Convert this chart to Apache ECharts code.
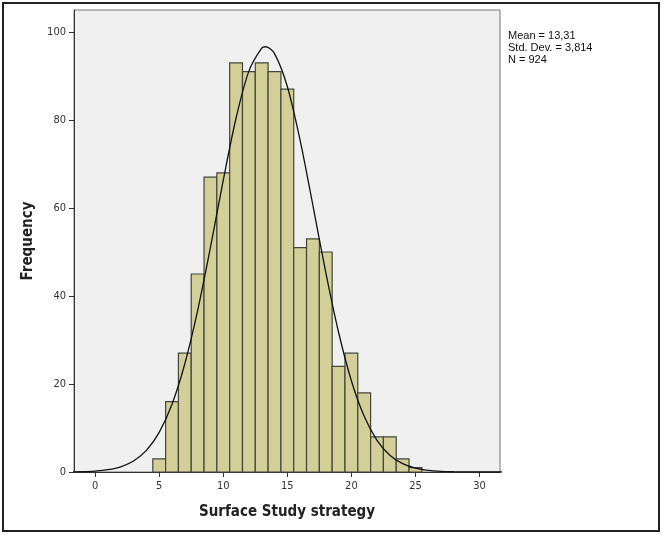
<!DOCTYPE html>
<html>
<head>
<meta charset="utf-8">
<script src="https://cdn.jsdelivr.net/npm/echarts@6/dist/echarts.min.js"></script>
<style>
html,body{margin:0;padding:0;background:#fff;}
#chart{width:662px;height:535px;}
</style>
</head>
<body>
<div id="chart"></div>
<script>
// Histogram bins (centre of each bin, width 1)
const binCenters = [5,6,7,8,9,10,11,12,13,14,15,16,17,18,19,20,21,22,23,24,25];
const frequencies = [3,16,27,45,67,68,93,91,93,91,87,51,53,50,24,27,18,8,8,3,1];
// Normal curve (x, height)
const curveX = [-2,-1,0,1,2,3,4,5,6,7,8,9,10,11,12,13,13.31,14,15,16,17,18,19,20,21,22,23,24,25,26,27,28,29,30,31,32];
const curveY = [0.03,0.085,0.22,0.53,1.19,2.5,4.91,9.0,15.4,24.6,36.67,51.04,66.32,80.45,91.11,96.33,96.65,95.08,87.61,75.37,60.53,45.38,31.76,20.75,12.66,7.21,3.83,1.9,0.88,0.38,0.15,0.06,0.02,0.007,0.002,0.001];
const xTicks = [0,5,10,15,20,25,30];
const yTicks = [0,20,40,60,80,100];
const statsLines = ['Mean = 13,31','Std. Dev. = 3,814','N = 924'];

const barData = binCenters.map((c,i)=>[c,frequencies[i]]);
const curveData = curveX.map((x,i)=>[x,curveY[i]]);

const chart = echarts.init(document.getElementById('chart'), null, {renderer:'canvas'});
const labelFont = {fontFamily:'DejaVu Sans Condensed, DejaVu Sans', fontSize:11, color:'#333'};
chart.setOption({
  animation:false,
  backgroundColor:'#ffffff',
  grid:{left:74,right:162,top:10,bottom:63,show:true,backgroundColor:'#f0f0f0',borderColor:'#777',borderWidth:1},
  xAxis:{
    type:'value', min:-1.65, max:31.6,
    name:'Surface Study strategy', nameLocation:'middle', nameGap:33,
    nameTextStyle:{fontFamily:'DejaVu Sans Condensed, DejaVu Sans', fontWeight:'bold', fontSize:15, color:'#222'},
    axisLine:{show:true,onZero:false,lineStyle:{color:'#333',width:1}},
    axisTick:{show:true,inside:false,length:5,customValues:xTicks,lineStyle:{color:'#333'}},
    axisLabel:Object.assign({customValues:xTicks,margin:9},labelFont),
    splitLine:{show:false}
  },
  yAxis:{
    type:'value', min:0, max:105,
    name:'Frequency', nameLocation:'middle', nameGap:38,
    nameTextStyle:{fontFamily:'DejaVu Sans Condensed, DejaVu Sans', fontWeight:'bold', fontSize:15, color:'#222'},
    axisLine:{show:true,onZero:false,lineStyle:{color:'#333',width:1}},
    axisTick:{show:true,inside:false,length:5,customValues:yTicks,lineStyle:{color:'#333'}},
    axisLabel:Object.assign({customValues:yTicks,margin:8},labelFont),
    splitLine:{show:false}
  },
  series:[
    {
      type:'custom',
      data:barData,
      z:2,
      renderItem:function(params,api){
        const c = api.value(0), h = api.value(1);
        const p1 = api.coord([c-0.5,h]);
        const p2 = api.coord([c+0.5,0]);
        return {
          type:'rect',
          shape:{x:p1[0],y:p1[1],width:p2[0]-p1[0],height:p2[1]-p1[1]},
          style:{fill:'#d3cf98',stroke:'#45453a',lineWidth:1.2}
        };
      }
    },
    {
      type:'line',
      data:curveData,
      smooth:0.3,
      showSymbol:false,
      z:3,
      lineStyle:{color:'#111',width:1.3}
    }
  ],
  graphic:[
    {type:'rect',shape:{x:3,y:3,width:656,height:528},style:{fill:null,stroke:'#222',lineWidth:2},silent:true},
    {type:'text',left:508,top:30,style:{text:statsLines.join('\n'),fontFamily:'Liberation Sans, Arial',fontSize:11,lineHeight:12,fill:'#111'}}
  ]
});
</script>
</body>
</html>
